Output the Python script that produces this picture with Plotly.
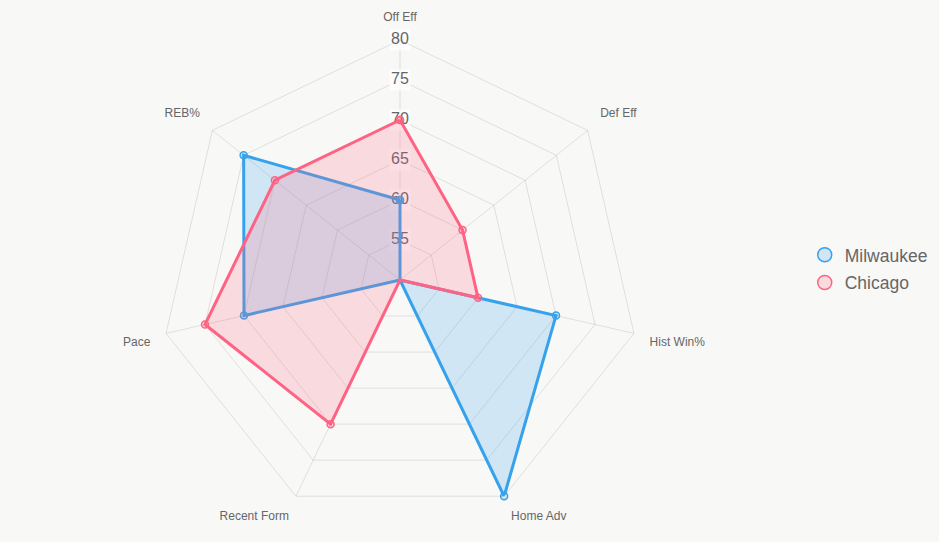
import plotly.graph_objects as go

categories = ["Off Eff", "Def Eff", "Hist Win%", "Home Adv", "Recent Form", "Pace", "REB%"]
milwaukee = [60, 50, 70, 80, 50, 70, 75]
chicago = [70, 60, 60, 50, 70, 75, 70]
tick_vals = [55, 60, 65, 70, 75, 80]
label_pos = ["top center", "top right", "bottom right", "bottom right",
             "bottom left", "bottom left", "top left"]

series = [
    ("Milwaukee", milwaukee, "rgb(54,162,235)", "rgba(54,162,235,0.2)"),
    ("Chicago", chicago, "rgb(255,99,132)", "rgba(255,99,132,0.2)"),
]

R_MIN, R_MAX = 50, 80
LABEL_R = 82
LABEL_MAX = 82.2

fig = go.Figure()

# radial tick label backdrops and labels along the vertical axis
fig.add_trace(go.Scatterpolar(
    r=tick_vals, theta=[categories[0]] * len(tick_vals), mode="markers",
    marker=dict(symbol="square", size=21, color="rgba(255,255,255,0.75)", line=dict(width=0)),
    showlegend=False, hoverinfo="skip", cliponaxis=False,
))
fig.add_trace(go.Scatterpolar(
    r=tick_vals, theta=[categories[0]] * len(tick_vals), mode="text",
    text=[str(v) for v in tick_vals], textfont=dict(size=16, color="#666666"),
    textposition="middle center", showlegend=False, hoverinfo="skip", cliponaxis=False,
))

for name, vals, line_c, fill_c in series:
    fig.add_trace(go.Scatterpolar(
        r=vals + vals[:1], theta=categories + categories[:1],
        mode="lines+markers", fill="toself", fillcolor=fill_c,
        line=dict(color=line_c, width=3),
        marker=dict(size=7, color=fill_c, line=dict(color=line_c, width=1.5)),
        name=name, showlegend=False, hoverinfo="r+theta+name",
    ))

# category labels placed just outside the outer ring (on an invisible larger polar)
fig.add_trace(go.Scatterpolar(
    r=[LABEL_R] * len(categories), theta=categories, mode="text",
    text=categories, textposition=label_pos, textfont=dict(size=12, color="#666666"),
    showlegend=False, hoverinfo="skip", cliponaxis=False, subplot="polar2",
))

# legend entries with circle symbols
for name, vals, line_c, fill_c in series:
    fig.add_trace(go.Scatterpolar(
        r=[None], theta=[categories[0]], mode="markers", name=name, legendgroup=name,
        marker=dict(size=14, color=fill_c, line=dict(color=line_c, width=1.5)),
        showlegend=True,
    ))

W, H = 939, 542
cx, cy, R = 400, 280, 240
R2 = R * (LABEL_MAX - R_MIN) / (R_MAX - R_MIN)


def dom(rad):
    y0 = max(0.0, (H - cy - rad) / H)
    y1 = min(1.0, (H - cy + rad) / H)
    return dict(x=[(cx - rad) / W, (cx + rad) / W], y=[y0, y1])


fig.update_layout(
    width=W, height=H,
    margin=dict(l=0, r=0, t=0, b=0),
    paper_bgcolor="#f8f8f7", plot_bgcolor="#f8f8f7",
    font=dict(family="Liberation Sans, Arial, sans-serif", color="#666666"),
    polar=dict(
        domain=dom(R),
        bgcolor="rgba(0,0,0,0)",
        gridshape="linear",
        radialaxis=dict(range=[R_MIN, R_MAX], tickvals=tick_vals, showticklabels=False,
                        ticks="", showline=False, gridcolor="rgba(0,0,0,0.1)", gridwidth=1),
        angularaxis=dict(rotation=90, direction="clockwise", showticklabels=False,
                         categoryorder="array", categoryarray=categories,
                         ticks="", showline=True, gridcolor="rgba(0,0,0,0.1)",
                         linecolor="rgba(0,0,0,0.1)", linewidth=1),
    ),
    polar2=dict(
        domain=dom(R2),
        bgcolor="rgba(0,0,0,0)",
        gridshape="linear",
        radialaxis=dict(range=[R_MIN, LABEL_MAX], showticklabels=False, showgrid=False,
                        ticks="", showline=False),
        angularaxis=dict(rotation=90, direction="clockwise", showticklabels=False,
                         categoryorder="array", categoryarray=categories,
                         showgrid=False, ticks="", showline=False),
    ),
    legend=dict(x=0.857, y=0.504, xanchor="left", yanchor="middle",
                font=dict(size=17.5, color="#666666"), bgcolor="rgba(0,0,0,0)",
                itemsizing="trace", tracegroupgap=2),
)

fig.write_html("out.html")
